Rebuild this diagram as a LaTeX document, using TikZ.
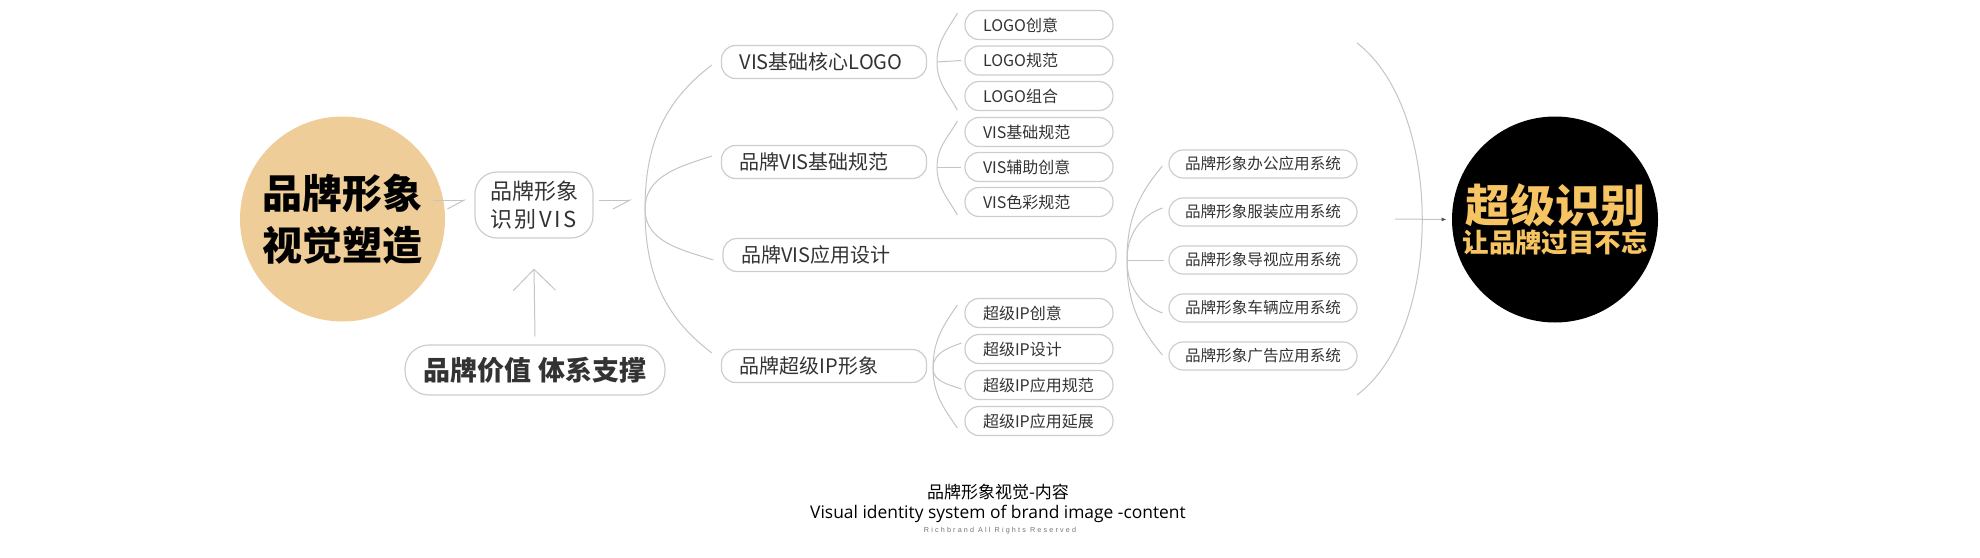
\documentclass[tikz,border=0pt]{standalone}
\usepackage{fontspec}
\setmainfont{Noto Sans CJK SC}
\newfontfamily\latinfont{Open Sans}
\newfontfamily\rightsfont[LetterSpace=30]{Liberation Sans}
\usetikzlibrary{arrows.meta}
\definecolor{beige}{HTML}{EFCD98}
\definecolor{gold}{HTML}{F7C463}
\definecolor{linegray}{HTML}{C4C4C4}
\definecolor{boxgray}{HTML}{CDCDCD}
\definecolor{txt}{HTML}{333333}
\tikzset{
  box/.style={draw=boxgray, line width=0.6pt, rounded corners=7pt, inner xsep=9pt, inner ysep=0pt, align=left, text=txt},
  mainbox/.style={box, minimum height=16.5pt, text width=84.5pt, font=\fontsize{10}{12}\selectfont},
  subbox/.style={box, minimum height=14.5pt, text width=56pt, font=\fontsize{8}{10}\selectfont},
  appbox/.style={box, minimum height=14pt, inner xsep=8pt, text width=78pt, font=\fontsize{7.8}{10}\selectfont},
  link/.style={draw=linegray, line width=0.5pt},
  harp/.style={link, -{Straight Barb[harpoon,swap,length=8.5pt,width=9pt]}},
}
\begin{document}
\begin{tikzpicture}[x=0.5pt,y=0.5pt]
\useasboundingbox (0,0) rectangle (1980,-557);

\node[circle, fill=beige, minimum size=102.5pt, inner sep=0pt, align=center, font=\fontsize{20}{26}\selectfont\bfseries] (brand) at (342.5,-219) {品牌形象\\视觉塑造};
\node[box, rounded corners=11pt, minimum width=59pt, minimum height=33pt, inner xsep=7.5pt, text width=44pt, font=\fontsize{11}{14}\selectfont] (vis) at (534,-205) {品牌形象\\{\addfontfeatures{LetterSpace=12}识别VIS}};
\node[box, rounded corners=12pt, minimum width=130pt, minimum height=25pt, align=center, font=\fontsize{13.5}{15}\selectfont\bfseries] (base) at (535,-370) {品牌价值 体系支撑};

\node[mainbox] (m1) at (824,-62) {VIS基础核心LOGO};
\node[mainbox] (m2) at (824,-162) {品牌VIS基础规范};
\node[mainbox, text width=178.5pt] (m3) at (919.5,-255) {品牌VIS应用设计};
\node[mainbox] (m4) at (824,-366) {品牌超级IP形象};

\foreach \t [count=\i] in {LOGO创意,LOGO规范,LOGO组合}
  \node[subbox] (l\i) at (1039,{-25-35.5*(\i-1)}) {\t};
\foreach \t [count=\i] in {VIS基础规范,VIS辅助创意,VIS色彩规范}
  \node[subbox] (v\i) at (1039,{-132-35*(\i-1)}) {\t};
\foreach \t [count=\i] in {超级IP创意,超级IP设计,超级IP应用规范,超级IP应用延展}
  \node[subbox] (p\i) at (1039,{-313-36*(\i-1)}) {\t};
\foreach \t [count=\i] in {办公,服装,导视,车辆,广告}
  \node[appbox] (a\i) at (1263,{-164-48*(\i-1)}) {品牌形象\t 应用系统};

\node[circle, fill=black, minimum size=103pt, inner sep=0pt, align=center, text=gold] (goal) at (1555,-219.5)
  {\fontsize{22.5}{23.5}\selectfont\bfseries 超级识别\\\fontsize{13.2}{23.5}\selectfont\bfseries 让品牌过目不忘};

\node[text=black, font=\fontsize{8.5}{10}\selectfont] (title) at (998,-492) {品牌形象视觉-内容};
\node[text=black, font=\latinfont\fontsize{8.7}{11}\selectfont] (caption) at (998,-514) {Visual identity system of brand image -content};
\node[text=black!55, font=\rightsfont\fontsize{3.6}{4}\selectfont] (rights) at (1000,-531) {Richbrand All Rights Reserved};

% hubs
\coordinate (h0) at (645,-209);
\coordinate (hl) at (937,-62);
\coordinate (hv) at (937,-167);
\coordinate (hp) at (933,-368);
\coordinate (ha) at (1127,-260);
\coordinate (arctop) at (1357,-43);
\coordinate (arcbot) at (1357,-395);
\coordinate (arrstart) at (1395,-219);

\draw[harp] ([shift={(-6pt,9.5pt)}]brand.east) -- ([shift={(-4pt,2.5pt)}]vis.west);
\draw[harp] ([shift={(2.5pt,2.5pt)}]vis.east) -- ([shift={(-6.5pt,4.5pt)}]h0);
\draw[link, -{Straight Barb[length=10.5pt,width=21pt]}] ([yshift=4pt]base.north) -- ([yshift=-15pt]vis.south);

\begin{scope}[link]
\draw (h0) to[out=90,in=217] ([shift={(-4.5pt,-1.5pt)}]m1.west);
\draw (h0) to[out=90,in=198] ([shift={(-4.5pt,3pt)}]m2.west);
\draw (h0) to[out=270,in=162] ([shift={(-4.5pt,-2.5pt)}]m3.west);
\draw (h0) to[out=270,in=143] ([shift={(-4.5pt,6.5pt)}]m4.west);

\draw (hl) to[out=90,in=240] ([shift={(-3.5pt,6pt)}]l1.west);
\draw (hl) -- ([xshift=-1.5pt]l2.west);
\draw (hl) to[out=270,in=120] ([shift={(-3.5pt,-7pt)}]l3.west);

\draw (hv) to[out=90,in=240] ([shift={(-3.5pt,5.5pt)}]v1.west);
\draw (hv) -- ([xshift=-1.5pt]v2.west);
\draw (hv) to[out=270,in=120] ([shift={(-3.5pt,-6.5pt)}]v3.west);

\draw (hp) to[out=90,in=235] ([shift={(-3.5pt,4pt)}]p1.west);
\draw (hp) to[out=90,in=200] ([shift={(-1.5pt,3pt)}]p2.west);
\draw (hp) to[out=270,in=160] ([shift={(-1.5pt,-2pt)}]p3.west);
\draw (hp) to[out=270,in=125] ([shift={(-3.5pt,-3.5pt)}]p4.west);

\draw (ha) to[out=90,in=230] ([shift={(-3pt,-1pt)}]a1.west);
\draw (ha) to[out=90,in=200] ([shift={(-3pt,2pt)}]a2.west);
\draw (ha) -- ([xshift=-2pt]a3.west);
\draw (ha) to[out=270,in=160] ([shift={(-3pt,-2.5pt)}]a4.west);
\draw (ha) to[out=270,in=130] ([shift={(-3pt,0.5pt)}]a5.west);

\draw (arctop) .. controls +(87,-67) and +(87,65) .. (arcbot);
\end{scope}

\draw[link, -{Latex[length=2.5pt,width=2pt,color=black!70]}] (arrstart) -- ([xshift=-2.5pt]goal.west);
\end{tikzpicture}
\end{document}
